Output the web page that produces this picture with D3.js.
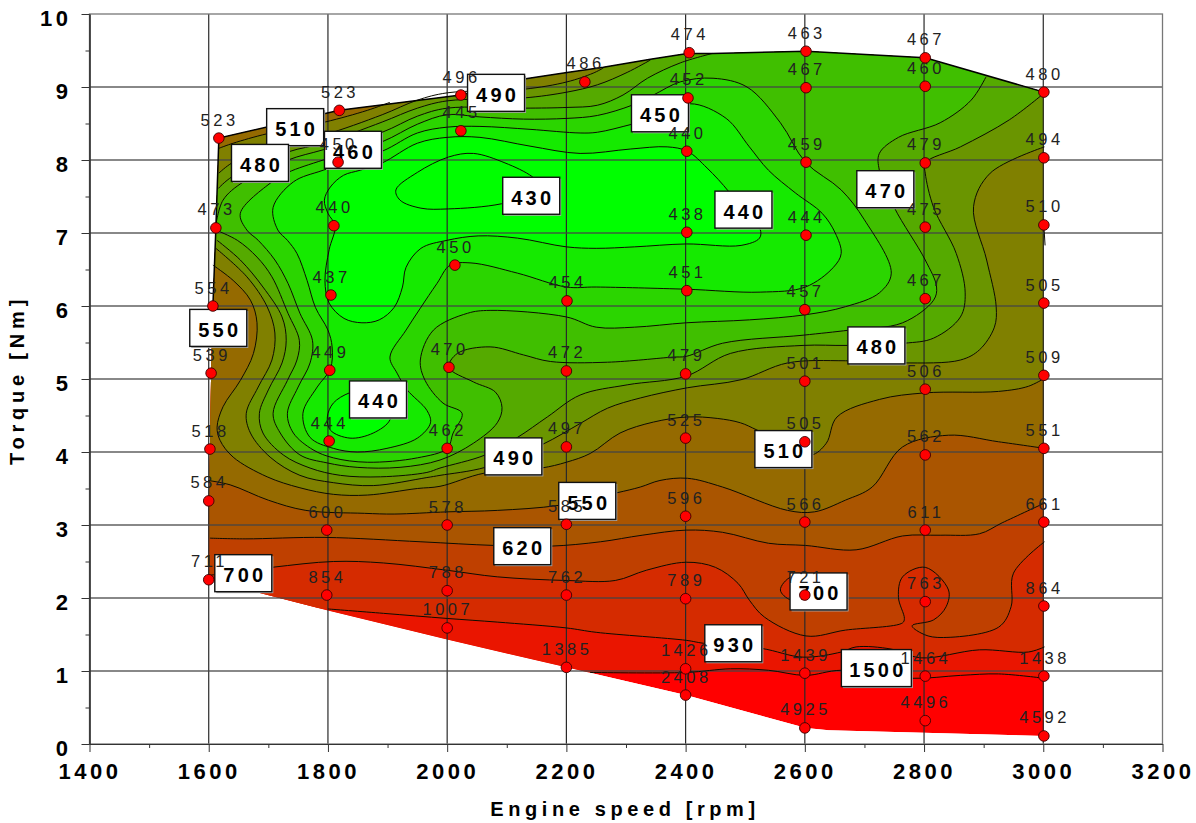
<!DOCTYPE html>
<html><head><meta charset="utf-8">
<script src="https://d3js.org/d3.v7.min.js"></script>
<style>
html,body{margin:0;padding:0;background:#fff}
svg{display:block;font-family:"Liberation Sans",Arial,sans-serif}
</style></head><body><svg id="c" width="1196" height="823"></svg>
<script>
// ---------- measured points ----------
const pointRpm=[1617,1819,2023,2231,2406,2602,2802,3001,2023,2404,2602,2802,1817,2402,2602,2802,3001,1612,1810,2402,2602,2802,3001,2013,1607,1805,2201,2402,2600,2802,3001,1604,1803,2003,2200,2400,2600,2802,3001,1602,1802,2000,2200,2400,2600,2802,3001,1600,1798,2000,2200,2400,2600,2802,3001,1600,1798,2000,2200,2400,2600,2802,3001,2000,2200,2400,2600,2802,3001,2400,2600,2802,3001];
const pointTorque=[8.30,8.68,8.89,9.07,9.47,9.49,9.40,8.93,8.40,8.85,8.99,9.01,7.97,8.12,7.97,7.96,8.03,7.07,7.10,7.01,6.97,7.08,7.11,6.56,6.00,6.15,6.07,6.21,5.95,6.10,6.04,5.08,5.12,5.16,5.11,5.07,4.97,4.86,5.05,4.04,4.15,4.05,4.07,4.19,4.14,3.96,4.05,3.33,2.93,3.00,3.01,3.12,3.04,2.93,3.04,2.25,2.04,2.10,2.04,1.99,2.04,1.95,1.89,1.59,1.05,1.03,0.97,0.93,0.93,0.67,0.22,0.32,0.11];
const pointValue=[523,523,496,486,474,463,467,480,445,452,467,460,450,440,459,479,494,473,440,438,444,475,510,450,554,437,454,451,457,467,505,539,449,470,472,479,501,506,509,518,444,462,497,525,505,562,551,584,600,578,585,596,566,611,661,711,854,788,762,789,721,763,864,1007,1385,1426,1439,1464,1438,2408,4925,4496,4592];

// ---------- envelope of the map ----------
const envelope=[[1617,8.30],[1819,8.68],[2023,8.89],[2129,9.11],[2201,9.20],[2262,9.27],[2341,9.38],[2403,9.46],[2445,9.46],[2602,9.49],[2802,9.40],[3001,8.93],[3001,0.11],[2640,0.19],[2602,0.22],[2400,0.67],[2200,1.05],[2000,1.43],[1800,1.83],[1600,2.25],[1600,3.33],[1602,4.04],[1604,5.08],[1607,6.00],[1612,7.07]];
const envelopeEdge=[[1604,5.6],[1607,6.00],[1612,7.07],[1617,8.30],[1819,8.68],[2023,8.89],[2129,9.11],[2201,9.20],[2262,9.27],[2341,9.38],[2403,9.46],[2445,9.46],[2602,9.49],[2802,9.40],[3001,8.93]];

// ---------- contour lines [rpm, torque] ----------
const c430=[[2143,7.77],[2097,7.96],[2044,8.09],[2002,8.04],[1950,7.83],[1914,7.59],[1921,7.45],[1956,7.34],[2002,7.33],[2091,7.40],[2164,7.59]];
const c440a=[[1794,7.45],[1804,7.63],[1826,7.79],[1854,7.86],[1891,7.96],[1950,8.23],[2000,8.31],[2055,8.31],[2139,8.19],[2223,8.09],[2307,8.15],[2369,8.18],[2403,8.12],[2436,7.89],[2472,7.57],[2500,7.24],[2525,7.05],[2524,6.93],[2493,6.83],[2401,6.85],[2314,6.81],[2250,6.79],[2200,6.81],[2118,6.93],[2052,6.96],[2000,6.90],[1956,6.79],[1931,6.53],[1925,6.26],[1911,5.98],[1886,5.81],[1857,5.77],[1827,5.83],[1802,6.04],[1795,6.35],[1802,6.77],[1812,7.10],[1800,7.27]];
const c440b=[[1836,4.81],[1809,4.67],[1799,4.48],[1804,4.30],[1837,4.19],[1876,4.26],[1904,4.44],[1904,4.71],[1862,4.85]];
const c450=[[1708,7.35],[1742,7.70],[1792,7.86],[1891,8.12],[1950,8.37],[2000,8.45],[2055,8.46],[2139,8.42],[2223,8.37],[2252,8.38],[2310,8.49],[2366,8.61],[2408,8.77],[2468,8.57],[2507,8.18],[2539,7.86],[2584,7.55],[2629,7.27],[2651,7.00],[2661,6.72],[2648,6.53],[2601,6.26],[2525,6.19],[2401,6.23],[2250,6.26],[2200,6.26],[2118,6.45],[2040,6.59],[2005,6.56],[1983,6.31],[1955,5.97],[1931,5.67],[1904,5.30],[1916,5.08],[1933,4.85],[1966,4.57],[1972,4.40],[1950,4.19],[1899,4.05],[1849,4.00],[1809,4.05],[1770,4.20],[1758,4.53],[1782,4.89],[1804,5.14],[1807,5.44],[1800,5.67],[1779,5.98],[1765,6.35],[1748,6.72],[1732,6.90],[1716,7.04]];
const c460=[[1653,7.27],[1706,7.70],[1733,7.83],[1792,8.00],[1891,8.25],[1950,8.49],[2000,8.62],[2055,8.59],[2128,8.56],[2201,8.57],[2252,8.61],[2310,8.75],[2346,8.89],[2391,9.07],[2446,9.12],[2503,9.00],[2559,8.51],[2601,7.97],[2661,7.59],[2700,7.18],[2745,6.45],[2725,6.18],[2668,5.99],[2601,5.88],[2507,5.81],[2401,5.77],[2314,5.71],[2250,5.71],[2200,5.85],[2072,5.94],[2034,5.90],[1977,5.67],[1955,5.26],[1963,4.98],[1993,4.67],[2025,4.53],[2010,4.26],[2000,4.05],[1950,3.92],[1866,3.86],[1809,3.92],[1775,4.03],[1742,4.26],[1732,4.53],[1750,4.89],[1770,5.22],[1774,5.53],[1753,5.90],[1733,6.31],[1711,6.63],[1683,6.90],[1664,7.04]];
const c470a=[[1612,7.11],[1624,7.45],[1658,7.70],[1733,8.00],[1792,8.14],[1891,8.38],[1950,8.60],[2000,8.71],[2129,8.71],[2201,8.72],[2252,8.75],[2295,8.89],[2336,9.12],[2391,9.33],[2445,9.46]];
const c470b=[[2904,9.14],[2879,8.82],[2827,8.51],[2757,8.31],[2725,8.09],[2725,7.86],[2750,7.35],[2802,6.63],[2821,6.26],[2816,6.08],[2764,5.77],[2675,5.67],[2597,5.60],[2462,5.49],[2401,5.31],[2379,5.30],[2269,5.23],[2173,5.24],[2128,5.33],[2072,5.44],[2017,5.35],[2003,5.16],[2044,4.96],[2081,4.82],[2092,4.61],[2084,4.40],[2044,4.12],[1988,3.89],[1921,3.79],[1849,3.79],[1799,3.85],[1753,3.96],[1720,4.26],[1708,4.53],[1732,4.98],[1748,5.26],[1752,5.53],[1733,5.90],[1706,6.40],[1681,6.67],[1648,6.90],[1612,7.04]];
const c480a=[[1616,7.61],[1639,7.77],[1733,8.11],[1792,8.23],[1891,8.52],[1950,8.71],[2000,8.81],[2129,8.85],[2201,8.93],[2252,9.03],[2302,9.20],[2341,9.37]];
const c480b=[[3002,8.92],[2943,8.55],[2861,8.18],[2802,7.96],[2802,7.82],[2816,7.35],[2854,6.72],[2869,6.18],[2861,5.85],[2816,5.56],[2767,5.49],[2671,5.46],[2597,5.46],[2475,5.35],[2401,5.04],[2302,4.92],[2223,4.78],[2168,4.48],[2118,4.20],[2064,3.96],[1988,3.78],[1966,3.72],[1888,3.66],[1821,3.68],[1770,3.78],[1725,3.96],[1691,4.26],[1685,4.53],[1700,4.85],[1723,5.22],[1730,5.53],[1723,5.85],[1691,6.26],[1653,6.63],[1614,6.90]];
const c490a=[[1617,7.82],[1639,7.96],[1698,8.16],[1792,8.34],[1891,8.62],[1950,8.82],[2000,8.92],[2129,8.97],[2201,9.07],[2245,9.19],[2262,9.26]];
const c490b=[[3002,8.18],[2911,7.82],[2883,7.36],[2905,6.63],[2921,5.99],[2918,5.71],[2893,5.40],[2861,5.26],[2764,5.22],[2668,5.25],[2571,5.22],[2493,4.99],[2403,4.88],[2324,4.74],[2269,4.60],[2223,4.39],[2159,4.10],[2064,3.79],[1988,3.68],[1966,3.65],[1876,3.54],[1809,3.58],[1753,3.68],[1703,3.93],[1670,4.26],[1663,4.53],[1683,4.89],[1706,5.26],[1711,5.63],[1698,5.99],[1664,6.40],[1612,6.79]];
const c510a=[[1904,8.79],[1866,8.68],[1795,8.52],[1698,8.36],[1641,8.23],[1617,8.16]];
const c510b=[[1607,6.56],[1641,6.35],[1670,6.08],[1681,5.77],[1675,5.35],[1653,4.98],[1624,4.62],[1614,4.34],[1619,4.16],[1641,3.93],[1698,3.66],[1753,3.51],[1809,3.42],[1866,3.41],[1950,3.50],[1988,3.53],[2062,3.71],[2158,3.78],[2200,3.86],[2240,3.98],[2290,4.26],[2346,4.41],[2403,4.48],[2453,4.46],[2492,4.40],[2520,4.30],[2576,4.09],[2611,3.96],[2636,4.12],[2654,4.48],[2725,4.72],[2802,4.81],[2925,4.83],[2975,4.90],[3002,5.01]];
const c510c=[[3001,7.10],[3003,6.83]];
const c550=[[1599,3.61],[1636,3.55],[1700,3.34],[1763,3.20],[1861,3.16],[1911,3.15],[2000,3.18],[2084,3.20],[2188,3.27],[2284,3.44],[2324,3.52],[2357,3.61],[2403,3.64],[2462,3.52],[2571,3.20],[2616,3.18],[2668,3.34],[2713,3.52],[2764,4.07],[2841,4.23],[2925,4.14],[3002,4.05]];
const c620=[[1602,2.82],[1661,2.81],[1795,2.83],[1956,2.77],[2079,2.72],[2173,2.71],[2257,2.77],[2327,2.86],[2401,2.93],[2462,2.90],[2539,2.75],[2601,2.72],[2686,2.66],[2764,2.85],[2827,2.86],[2893,2.88],[2931,3.03],[3002,3.30]];
const c700a=[[1601,2.31],[1706,2.42],[1809,2.50],[1893,2.48],[2000,2.38],[2084,2.29],[2200,2.24],[2282,2.24],[2334,2.38],[2401,2.49],[2450,2.42],[2488,2.20],[2507,1.97],[2532,1.74],[2602,1.48],[2668,1.56],[2764,1.66],[2767,1.72],[2757,2.01],[2764,2.29],[2802,2.42],[2841,2.11],[2837,1.88],[2816,1.70],[2780,1.62],[2795,1.52],[2822,1.46],[2925,1.60],[2946,1.88],[2950,2.34],[3002,2.77]];
const c700b=[[2577,2.29],[2559,2.11],[2577,1.97],[2618,2.00],[2622,2.27]];
const c930=[[1800,1.85],[1893,1.79],[2000,1.72],[2084,1.67],[2200,1.59],[2250,1.53],[2401,1.42],[2430,1.38],[2527,1.31],[2597,1.19],[2661,1.26],[2686,1.33],[2745,1.30],[2795,1.18],[2893,1.29],[2975,1.26],[3002,1.33]];
const c1500=[[2240,0.98],[2401,0.98],[2475,1.03],[2539,1.01],[2601,0.94],[2661,1.01],[2779,0.90],[2861,0.94],[2925,0.96],[3002,0.90]];

// ---------- boxed contour labels ----------
const boxLevel=[510,480,460,490,450,430,440,470,480,550,440,490,510,550,620,700,700,930,1500];
const boxRpm=[1745,1686,1842,2082,2357,2141,2497,2735,2720,1616,1884,2111,2564,2235,2126,1658,2623,2480,2720];
const boxTorque=[8.45,7.96,8.14,8.92,8.64,7.51,7.32,7.60,5.46,5.70,4.72,3.94,4.04,3.33,2.71,2.34,2.09,1.38,1.04];

// ---------- axes ----------
const xMajor=[1400,1600,1800,2000,2200,2400,2600,2800,3000,3200];
const xMinor=[1500,1700,1900,2100,2300,2500,2700,2900,3100];
const yMajor=[0,1,2,3,4,5,6,7,8,9,10];
const yMinor=[0.5,1.5,2.5,3.5,4.5,5.5,6.5,7.5,8.5,9.5];
const xTitle="Engine speed [rpm]", yTitle="Torque [Nm]";

const x=d3.scaleLinear().domain([1400,3200]).range([89.5,1162.5]);
const y=d3.scaleLinear().domain([0,10]).range([744,14]);
const bandColor=d3.scaleLinear().domain([0,12]).range(["#00ff00","#ff0000"]);
const svg=d3.select("#c");

const contourLines=[
 {pts:c430,closed:true},{pts:c440a,closed:true},{pts:c440b,closed:true},{pts:c450,closed:true},{pts:c460,closed:true},
 {pts:c470a},{pts:c470b},{pts:c480a},{pts:c480b},{pts:c490a},{pts:c490b},{pts:c510a},{pts:c510b},{pts:c510c},
 {pts:c550},{pts:c620},{pts:c700a},{pts:c700b,closed:true},{pts:c930},{pts:c1500}];

const lineOpen=d3.line().x(d=>x(d[0])).y(d=>y(d[1])).curve(d3.curveCatmullRom);
const lineClosed=d3.line().x(d=>x(d[0])).y(d=>y(d[1])).curve(d3.curveCatmullRomClosed);
const lineStraight=d3.line().x(d=>x(d[0])).y(d=>y(d[1]));

// a band = contour pieces joined by straight closures that run outside the clipped envelope
const join=(...parts)=>parts.map((p,i)=>{
  const d=p.s?lineStraight(p.s):lineOpen(p);
  return i?d.replace(/^M/,"L"):d;
}).join("")+"Z";
const regions=[
 {band:11,d:join(c1500,{s:[[3100,0.9],[3100,10],[1500,10],[1500,0]]})},
 {band:10,d:join(c930,{s:[[3100,1.33],[3100,10],[1500,10],[1500,2]]})},
 {band:9,d:join(c700a,{s:[[3100,2.77],[3100,10],[1500,10],[1500,2.31]]})},
 {band:10,d:lineClosed(c700b)},
 {band:8,d:join(c620,{s:[[3100,3.3],[3100,10],[1500,10],[1500,2.82]]})},
 {band:7,d:join(c550,{s:[[3100,4.05],[3100,10],[1500,10],[1500,3.61]]})},
 {band:6,d:join(c510b,{s:[[3100,5.01],[3100,10],[1904,10]]},c510a,{s:[[1500,8.16],[1500,6.56]]})},
 {band:5,d:join(c490b,{s:[[1500,6.79],[1500,7.82]]},c490a,{s:[[2262,10],[3100,10],[3100,8.18]]})},
 {band:4,d:join(c480b,{s:[[1500,6.90],[1500,7.61]]},c480a,{s:[[2341,10],[3100,10],[3100,8.92]]})},
 {band:3,d:join(c470b,{s:[[1500,7.04],[1500,7.11]]},c470a,{s:[[2445,10],[2904,10]]})},
 {band:2,d:lineClosed(c460)},
 {band:1,d:lineClosed(c450)},
 {band:0,d:lineClosed(c440a)},
 {band:0,d:lineClosed(c440b)}];

svg.append("clipPath").attr("id","env").append("path").attr("d",lineStraight(envelope)+"Z");
const fillG=svg.append("g").attr("clip-path","url(#env)");
fillG.append("path").attr("d",lineStraight(envelope)+"Z").attr("fill",bandColor(12));
fillG.selectAll("path.band").data(regions).join("path").attr("class","band")
  .attr("d",d=>d.d).attr("fill",d=>bandColor(d.band));

// grid
const gridG=svg.append("g");
gridG.selectAll("line.v").data(xMajor.slice(1,-1)).join("line").attr("class","v")
  .attr("x1",x).attr("x2",x).attr("y1",y(10)).attr("y2",y(0)).attr("stroke","#2a2a2a").attr("stroke-width",1.2);
gridG.selectAll("line.h").data(yMajor.slice(1,-1)).join("line").attr("class","h")
  .attr("x1",x(1400)).attr("x2",x(3200)).attr("y1",y).attr("y2",y).attr("stroke","#444").attr("stroke-opacity",.85).attr("stroke-width",1.3);
gridG.append("rect").attr("x",x(1400)).attr("y",y(10)).attr("width",x(3200)-x(1400)).attr("height",y(0)-y(10))
  .attr("fill","none").attr("stroke","#777").attr("stroke-width",1.3);

svg.append("g").attr("fill","none").attr("stroke","#0c0c00").attr("stroke-width",1)
  .selectAll("path").data(contourLines).join("path").attr("d",d=>(d.closed?lineClosed:lineOpen)(d.pts));
svg.append("path").attr("d",lineStraight(envelopeEdge)).attr("fill","none").attr("stroke","#000").attr("stroke-width",1.5);

// axes
const styleAxis=g=>{g.selectAll("path.domain").attr("stroke","#333").attr("stroke-width",1.2);g.selectAll("line").attr("stroke","#333").attr("stroke-width",1);};
const axB=svg.append("g").attr("transform",`translate(0,${y(0)})`).call(d3.axisBottom(x).tickValues(xMajor).tickFormat(d3.format("d")).tickSize(8).tickPadding(10).tickSizeOuter(0));
svg.append("g").attr("transform",`translate(0,${y(0)})`).call(d3.axisBottom(x).tickValues(xMinor).tickSize(4).tickFormat("").tickSizeOuter(0)).call(styleAxis);
const axL=svg.append("g").attr("transform",`translate(${x(1400)},0)`).call(d3.axisLeft(y).tickValues(yMajor).tickFormat(d3.format("d")).tickSize(8).tickPadding(10).tickSizeOuter(0));
svg.append("g").attr("transform",`translate(${x(1400)},0)`).call(d3.axisLeft(y).tickValues(yMinor).tickSize(4).tickFormat("").tickSizeOuter(0)).call(styleAxis);
[axB,axL].forEach(a=>{a.call(styleAxis);a.selectAll("text").attr("fill","#000").style("font-size","22px").style("font-weight","bold")
  .style("font-family",'"Liberation Sans",Arial,sans-serif').style("letter-spacing","3.5px");});
axB.selectAll("text").attr("dy","0.75em");
axL.selectAll("text").attr("dy","0.5em");

svg.append("text").attr("x",625).attr("y",816).attr("text-anchor","middle").style("font-size","20px").style("font-weight","bold").style("letter-spacing","4.6px").text(xTitle);
svg.append("text").attr("transform","translate(24,380) rotate(-90)").attr("text-anchor","middle").style("font-size","20px").style("font-weight","bold").style("letter-spacing","4.8px").text(yTitle);

// boxed labels
const boxes=svg.append("g").selectAll("g").data(boxLevel).join("g")
  .attr("transform",(d,i)=>`translate(${x(boxRpm[i])},${y(boxTorque[i])})`);
boxes.append("rect").attr("x",d=>(d>999?-35:-28.5)+1.5).attr("y",-18.5+1.5).attr("width",d=>d>999?70:57).attr("height",37).attr("fill","#aaa");
boxes.append("rect").attr("x",d=>d>999?-35:-28.5).attr("y",-18.5).attr("width",d=>d>999?70:57).attr("height",37).attr("fill","#fff").attr("stroke","#111").attr("stroke-width",1.4);
boxes.append("text").attr("text-anchor","middle").attr("x",1.5).attr("y",9).style("font-size","20px").style("font-weight","bold").style("letter-spacing","3.2px").text(d=>d);

// value labels and markers
svg.append("g").selectAll("text").data(pointValue).join("text")
  .attr("x",(d,i)=>x(pointRpm[i])+0.7).attr("y",(d,i)=>y(pointTorque[i])-12.5)
  .attr("text-anchor","middle").attr("fill","#222").style("font-size","16.5px").style("letter-spacing","3.5px").text(d=>d);
svg.append("g").selectAll("circle").data(pointValue).join("circle")
  .attr("cx",(d,i)=>x(pointRpm[i])).attr("cy",(d,i)=>y(pointTorque[i])).attr("r",5.3)
  .attr("fill","#ff0000").attr("stroke","#3a0000").attr("stroke-width",0.9);
</script></body></html>
